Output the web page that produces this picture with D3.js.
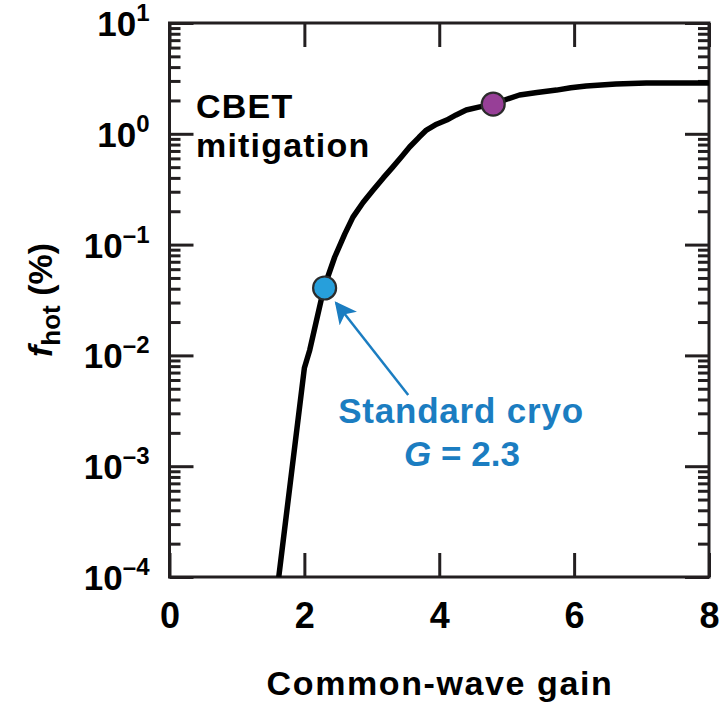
<!DOCTYPE html>
<html lang="en">
<head>
<meta charset="UTF-8">
<title>fhot vs common-wave gain</title>
<script src="https://cdn.jsdelivr.net/npm/d3@7"></script>
<style>
  body { margin: 0; background: #fff; }
  text { font-family: "Liberation Sans", Arial, Helvetica, sans-serif; font-weight: bold; }
</style>
</head>
<body>
<svg width="719" height="702"></svg>
<script>
// data
var gain = [1.62, 2.00, 2.08, 2.29, 2.45, 2.60, 2.72, 2.87, 3.02, 3.17, 3.31, 3.45, 3.56, 3.70, 3.81, 3.96, 4.11, 4.25, 4.40, 4.60, 4.80, 5.00, 5.19, 5.45, 5.74, 5.95, 6.18, 6.40, 6.62, 7.07, 7.50, 8.00];
var fhot = [1e-4, 0.0077, 0.0112, 0.0406, 0.0773, 0.125, 0.177, 0.24, 0.311, 0.40, 0.50, 0.63, 0.76, 0.93, 1.08, 1.22, 1.33, 1.48, 1.64, 1.75, 1.85, 2.05, 2.24, 2.36, 2.48, 2.60, 2.70, 2.76, 2.81, 2.87, 2.88, 2.88];
var xTicks = [0, 2, 4, 6, 8];
var yDecades = [-4, -3, -2, -1, 0, 1];
var markerGain = [2.3, 4.8];
var markerFhot = [0.0406, 1.85];
var markerColor = ["#279fdb", "#973f97"];

var svg = d3.select('svg'),
    margin = {top: 23, right: 10, bottom: 125, left: 169.5},
    width = +svg.attr('width') - margin.left - margin.right,
    height = +svg.attr('height') - margin.top - margin.bottom,
    g = svg.append('g').attr('transform', 'translate(' + margin.left + ',' + margin.top + ')');

var axisColor = '#231f20';
var blue = '#1b7dc1';

var x = d3.scaleLinear().domain([0, 8]).range([0, width]);
var y = d3.scaleLog().domain([1e-4, 10]).range([height, 0]);

var majors = yDecades.map(function(d){ return Math.pow(10, d); });
var minors = [];
yDecades.slice(0, -1).forEach(function(d){
    for (var k = 2; k < 10; k++) minors.push(k * Math.pow(10, d));
});

function styleAxis(sel){
    sel.select('.domain').remove();
    sel.selectAll('line').attr('stroke', axisColor).attr('stroke-width', 3);
}

// y axes (left and right), ticks inward
g.append('g').call(d3.axisLeft(y).tickValues(majors).tickSize(-24).tickFormat('')).call(styleAxis);
g.append('g').call(d3.axisLeft(y).tickValues(minors).tickSize(-11).tickFormat('')).call(styleAxis);
g.append('g').attr('transform', 'translate(' + width + ',0)')
    .call(d3.axisRight(y).tickValues(majors).tickSize(-24).tickFormat('')).call(styleAxis);
g.append('g').attr('transform', 'translate(' + width + ',0)')
    .call(d3.axisRight(y).tickValues(minors).tickSize(-11).tickFormat('')).call(styleAxis);

// x axes (bottom with labels, top mirrored)
var xb = g.append('g').attr('transform', 'translate(0,' + height + ')')
    .call(d3.axisBottom(x).tickValues(xTicks).tickSize(-24).tickPadding(25).tickFormat(d3.format('d')))
    .call(styleAxis);
xb.selectAll('text').attr('fill', '#000').attr('font-size', '36px')
    .attr('font-family', '"Liberation Sans", Arial, sans-serif').attr('font-weight', 'bold');
g.append('g').call(d3.axisTop(x).tickValues(xTicks).tickSize(-24).tickFormat('')).call(styleAxis);

// frame
g.append('rect')
    .attr('width', width).attr('height', height)
    .attr('fill', 'none').attr('stroke', axisColor).attr('stroke-width', 3);

// y tick labels 10^n
var yl = g.append('g').selectAll('text').data(yDecades).enter().append('text')
    .attr('x', -20).attr('y', function(d){ return y(Math.pow(10, d)) + 13; })
    .attr('text-anchor', 'end').attr('font-size', '35px').attr('fill', '#000');
yl.append('tspan').text('10');
yl.append('tspan').attr('font-size', '24px').attr('dy', -15)
    .text(function(d){ return d < 0 ? '\u2013' + (-d) : d; });

// curve
var pts = gain.map(function(d, i){ return [d, fhot[i]]; });
g.append('clipPath').attr('id', 'clip').append('rect').attr('width', width).attr('height', height);
g.append('path').datum(pts)
    .attr('clip-path', 'url(#clip)')
    .attr('fill', 'none').attr('stroke', '#000').attr('stroke-width', 5.5)
    .attr('stroke-linejoin', 'round')
    .attr('d', d3.line().x(function(d){ return x(d[0]); }).y(function(d){ return y(d[1]); }));

// arrow from label to blue marker
svg.append('defs').append('marker')
    .attr('id', 'arrow').attr('viewBox', '0 0 10 10').attr('refX', 9).attr('refY', 5)
    .attr('markerWidth', 22).attr('markerHeight', 22).attr('markerUnits', 'userSpaceOnUse')
    .attr('orient', 'auto')
    .append('path').attr('d', 'M0,0 L10,5 L0,10 L2.5,5 Z').attr('fill', blue);
g.append('line')
    .attr('x1', x(3.54)).attr('y1', y(0.0044))
    .attr('x2', x(2.47)).attr('y2', y(0.0297))
    .attr('stroke', blue).attr('stroke-width', 2.5)
    .attr('marker-end', 'url(#arrow)');

// markers
g.append('g').selectAll('circle').data(markerGain).enter().append('circle')
    .attr('cx', function(d){ return x(d); })
    .attr('cy', function(d, i){ return y(markerFhot[i]); })
    .attr('r', 11.5)
    .attr('fill', function(d, i){ return markerColor[i]; })
    .attr('stroke', '#2b2b2b').attr('stroke-width', 2.2);

// annotations
svg.append('text').attr('x', 196).attr('y', 118).attr('font-size', '34px')
    .attr('letter-spacing', 1.2).attr('fill', '#000').text('CBET');
svg.append('text').attr('x', 196).attr('y', 157).attr('font-size', '34px')
    .attr('letter-spacing', 1.2).attr('fill', '#000').text('mitigation');

svg.append('text').attr('x', 461).attr('y', 423).attr('text-anchor', 'middle')
    .attr('font-size', '35px').attr('letter-spacing', 0.8).attr('fill', blue).text('Standard cryo');
var gt = svg.append('text').attr('x', 462).attr('y', 466).attr('text-anchor', 'middle')
    .attr('font-size', '35px').attr('fill', blue);
gt.append('tspan').attr('font-style', 'italic').text('G');
gt.append('tspan').text(' = 2.3');

// axis titles
svg.append('text').attr('x', 440).attr('y', 695).attr('text-anchor', 'middle')
    .attr('font-size', '34px').attr('letter-spacing', 1.6).attr('fill', '#000').text('Common-wave gain');
var ylab = svg.append('text')
    .attr('transform', 'translate(52,300) rotate(-90)')
    .attr('text-anchor', 'middle').attr('font-size', '34px').attr('fill', '#000');
ylab.append('tspan').attr('font-style', 'italic').text('f');
ylab.append('tspan').attr('font-size', '26px').attr('dy', 8).text('hot');
ylab.append('tspan').attr('dy', -8).text(' (%)');
</script>
</body>
</html>
